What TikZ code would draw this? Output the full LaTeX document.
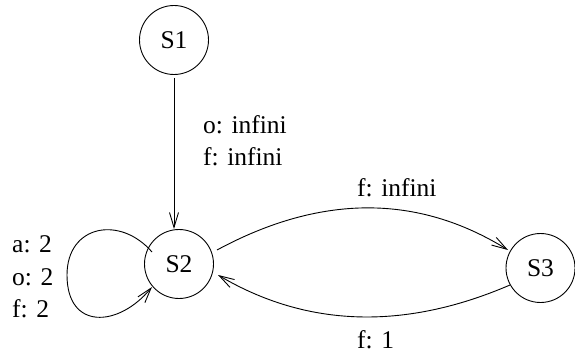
\documentclass[tikz,border=0pt]{standalone}
\usepackage{fontspec}
\setmainfont{Liberation Serif}
\usetikzlibrary{arrows.meta,calc}
\begin{document}
\begin{tikzpicture}[x=1pt,y=-1pt,
  state/.style={draw,circle,minimum size=69pt,inner sep=0pt,line width=0.9pt,font=\fontsize{25.5}{30}\selectfont},
  lbl/.style={anchor=base west,inner sep=0pt,font=\fontsize{25.5}{30}\selectfont},
  edge/.style={line width=0.9pt,-{Straight Barb[length=15pt,width=9pt,line width=0.9pt]}}]
\useasboundingbox (0,0) rectangle (575,355);
\node[state] (S1) at (174,40) {S1};
\node[state] (S2) at (179,264) {S2};
\node[state] (S3) at (540.5,268) {S3};
% S1 -> S2
\coordinate (a1) at (174,78);
\draw[edge] (a1) -- (a1 |- S2.north);
% loop on S2
\coordinate (l0) at ($(S2)+(-27,-12)$);
\coordinate (l1) at (67,275);
\coordinate (l2) at ($(S2)+(-27,23)$);
\draw[edge] (l0) .. controls (120,215) and (67,225) .. (l1)
  .. controls (67,330) and (118,328) .. (l2);
% S2 -> S3
\coordinate (u0) at ($(S2)+(38,-14)$);
\coordinate (u1) at ($(S3)+(-32.5,-18)$);
\draw[edge] (u0) .. controls (320.7,194) and (417.7,194) .. (u1);
% S3 -> S2
\coordinate (d0) at ($(S3)+(-30.5,17)$);
\coordinate (d1) at ($(S2)+(39,11)$);
\draw[edge] (d0) .. controls (404,330.6) and (306.6,327.3) .. (d1);
% labels
\node[lbl] (t1) at (203,133.5) {o: infini};
\node[lbl] (t2) at (203,166) {f: infini};
\node[lbl] (t3) at (12,252) {a: 2};
\node[lbl] (t4) at (12,285) {o: 2};
\node[lbl] (t5) at (12,317) {f: 2};
\node[lbl] (t6) at (357,197) {f: infini};
\node[lbl] (t7) at (357,348) {f: 1};
\end{tikzpicture}
\end{document}
